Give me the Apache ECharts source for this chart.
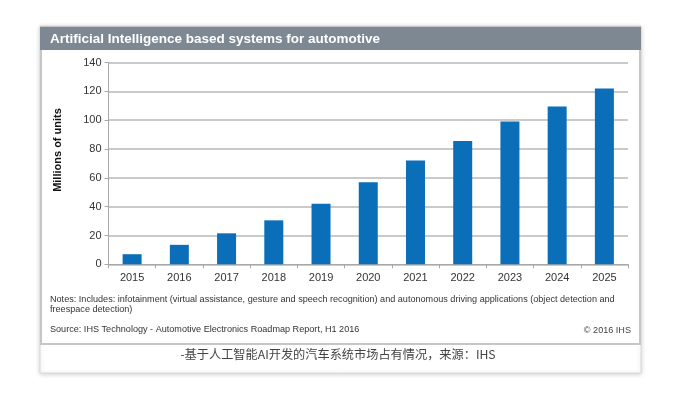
<!DOCTYPE html>
<html>
<head>
<meta charset="utf-8">
<script src="https://cdn.jsdelivr.net/npm/echarts@6/dist/echarts.min.js"></script>
<style>
  html, body { margin: 0; padding: 0; background: #fff; }
  #main { width: 673px; height: 397px; }
</style>
</head>
<body>
<div id="main"></div>
<script>
// 数据
var years = ['2015', '2016', '2017', '2018', '2019', '2020', '2021', '2022', '2023', '2024', '2025'];
var units = [7, 13.5, 21.5, 30.5, 42, 57, 72, 85.5, 99, 109.5, 122];
var yTicks = [0, 20, 40, 60, 80, 100, 120, 140];

var titleText = 'Artificial Intelligence based systems for automotive';
var yName = 'Millions of units';
var notes1 = 'Notes: Includes: infotainment (virtual assistance, gesture and speech recognition) and autonomous driving applications (object detection and';
var notes2 = 'freespace detection)';
var sourceText = 'Source: IHS Technology - Automotive Electronics Roadmap Report, H1 2016';
var copyText = '\u00a9 2016 IHS';
var caption = '-基于人工智能AI开发的汽车系统市场占有情况，来源：IHS';

var font = 'Arial, "Liberation Sans", sans-serif';

var chart = echarts.init(document.getElementById('main'));
var option = {
  animation: false,
  grid: {
    left: 108.5,
    right: 45,
    top: 62.5,
    bottom: 132.7,
    containLabel: false
  },
  xAxis: {
    type: 'category',
    data: years,
    axisLine: { lineStyle: { color: '#a8a8a8', width: 1 } },
    axisTick: { show: true, length: 4, lineStyle: { color: '#a8a8a8' } },
    axisLabel: { color: '#333', fontSize: 11, fontFamily: font, margin: 8 }
  },
  yAxis: {
    type: 'value',
    min: yTicks[0],
    max: yTicks[yTicks.length - 1],
    interval: yTicks[1] - yTicks[0],
    axisLine: { show: true, lineStyle: { color: '#a8a8a8', width: 1 } },
    axisTick: { show: true, length: 4, lineStyle: { color: '#a8a8a8' } },
    axisLabel: { color: '#333', fontSize: 11, fontFamily: font, margin: 7 },
    splitLine: { lineStyle: { color: '#b8b8b8', width: 1.5 } }
  },
  series: [{
    type: 'bar',
    data: units,
    barWidth: 19,
    itemStyle: { color: '#0a6fb8' }
  }],
  graphic: [
    // 卡片
    {
      type: 'rect', z: -20,
      shape: { x: 40, y: 26, width: 601, height: 347 },
      style: { fill: '#fff', stroke: '#d8d8d8', lineWidth: 1, shadowBlur: 5, shadowColor: 'rgba(0,0,0,0.18)', shadowOffsetY: 1 }
    },
    {
      type: 'rect', z: -15,
      shape: { x: 41, y: 27, width: 599, height: 317 },
      style: { fill: '#fff', stroke: '#c6c6c6', lineWidth: 2 }
    },
    {
      type: 'rect', z: -10,
      shape: { x: 40, y: 27, width: 601, height: 23 },
      style: { fill: '#7e8893' }
    },
    {
      type: 'text', z: 10, x: 50, y: 39,
      style: { text: titleText, fill: '#fff', font: 'bold 13.5px ' + font, textVerticalAlign: 'middle' }
    },
    {
      type: 'text', z: 10, x: 58, y: 150, rotation: Math.PI / 2,
      style: { text: yName, fill: '#111', font: 'bold 11px ' + font, textAlign: 'center', textVerticalAlign: 'middle' }
    },
    {
      type: 'text', z: 10, x: 50, y: 299,
      style: { text: notes1, fill: '#333', font: '9.1px ' + font, textVerticalAlign: 'middle' }
    },
    {
      type: 'text', z: 10, x: 50, y: 309.5,
      style: { text: notes2, fill: '#333', font: '9.1px ' + font, textVerticalAlign: 'middle' }
    },
    {
      type: 'text', z: 10, x: 50, y: 329,
      style: { text: sourceText, fill: '#333', font: '9.1px ' + font, textVerticalAlign: 'middle' }
    },
    {
      type: 'text', z: 10, x: 631, y: 330,
      style: { text: copyText, fill: '#444', font: '9.1px ' + font, textAlign: 'right', textVerticalAlign: 'middle' }
    },
    {
      type: 'text', z: 10, x: 338, y: 354,
      style: { text: caption, fill: '#444', font: '12.2px "Noto Sans CJK SC", ' + font, textAlign: 'center', textVerticalAlign: 'middle' }
    }
  ]
};
chart.setOption(option, true);
</script>
</body>
</html>
